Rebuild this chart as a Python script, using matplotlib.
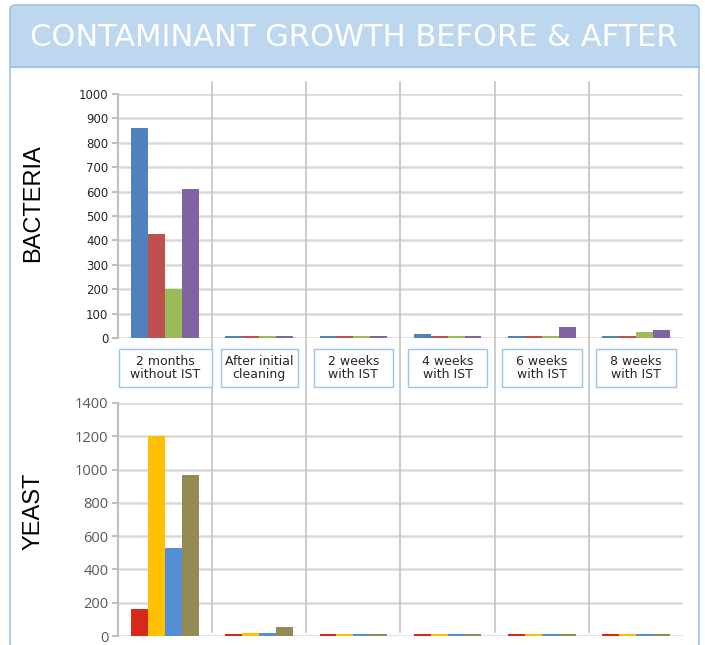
import matplotlib
matplotlib.use('Agg')
import matplotlib.pyplot as plt
import matplotlib.transforms as mtransforms
from matplotlib.patches import FancyBboxPatch, Rectangle
from matplotlib.lines import Line2D
import numpy as np

# Dados
categories = ['2 months\nwithout IST', 'After initial\ncleaning', '2 weeks\nwith IST',
              '4 weeks\nwith IST', '6 weeks\nwith IST', '8 weeks\nwith IST']

bacteria_1 = [860, 7, 7, 16, 7, 7]
bacteria_2 = [425, 7, 7, 7, 7, 7]
bacteria_3 = [200, 7, 7, 7, 7, 25]
bacteria_4 = [610, 7, 7, 7, 44, 34]

yeast_1 = [160, 12, 11, 11, 11, 11]
yeast_2 = [1200, 18, 11, 11, 11, 11]
yeast_3 = [530, 18, 11, 11, 11, 11]
yeast_4 = [970, 57, 11, 11, 11, 11]

bacteria_colors = ['#4f81bd', '#c0504d', '#9bbb59', '#8064a2']
yeast_colors = ['#d7281c', '#ffc000', '#558ed5', '#948a54']

# largura das caixas dos rótulos (px)
box_widths = [93, 77, 79, 79, 80, 80]

W, H = 705, 645
AX_L, AX_R = 118, 683


def fx(px):
    return px / W


def fy(py):
    return 1 - py / H


fig = plt.figure(figsize=(W / 100, H / 100), dpi=100)

# Painel de fundo
border = '#9dc3e6'
band = FancyBboxPatch((fx(10), fy(67)), fx(689), 62 / H,
                      boxstyle='round,pad=0,rounding_size=0.008',
                      transform=fig.transFigure, facecolor='#bdd7ee', edgecolor='none')
fig.add_artist(band)
fig.add_artist(Rectangle((fx(10), fy(67)), fx(689), 20 / H, transform=fig.transFigure,
                         facecolor='#bdd7ee', edgecolor='none'))
outer = FancyBboxPatch((fx(10), fy(648)), fx(689), 643 / H,
                       boxstyle='round,pad=0,rounding_size=0.008',
                       transform=fig.transFigure, facecolor='none', edgecolor=border, lw=1.2)
fig.add_artist(outer)
fig.add_artist(Line2D([fx(10), fx(699)], [fy(67), fy(67)], transform=fig.transFigure,
                      color='#9dc3e6', lw=1.5))

fig.text(fx(354), fy(37), 'CONTAMINANT GROWTH BEFORE & AFTER', color='white',
         fontsize=22, family='DejaVu Sans', ha='center', va='center')

x = np.arange(len(categories))
bw = 0.18
offsets = (np.arange(4) - 1.5) * bw


def make_axes(top, bottom):
    ax = fig.add_axes([fx(AX_L), fy(bottom), fx(AX_R) - fx(AX_L), (bottom - top) / H])
    ax.set_xlim(-0.5, len(categories) - 0.5)
    for s in ['top', 'right', 'bottom']:
        ax.spines[s].set_visible(False)
    ax.spines['left'].set_color('#bfbfbf')
    ax.spines['left'].set_linewidth(1.5)
    ax.set_xticks([])
    ax.tick_params(axis='y', length=4, color='#bfbfbf', width=1.5, pad=3)
    ax.yaxis.grid(True, color='#d9d9d9', lw=1.8)
    ax.set_axisbelow(True)
    ax.patch.set_alpha(0)
    return ax


# Bactérias
ax1 = make_axes(94, 338)
for i, (vals, c) in enumerate(zip([bacteria_1, bacteria_2, bacteria_3, bacteria_4], bacteria_colors)):
    ax1.bar(x + offsets[i], vals, bw, color=c, zorder=3, linewidth=0)
ax1.set_ylim(0, 1000)
ax1.set_yticks(np.arange(0, 1001, 100))
for lbl in ax1.get_yticklabels():
    lbl.set_fontsize(8.5)
    lbl.set_family('DejaVu Sans')
    lbl.set_color('#262626')

# Leveduras
ax2 = make_axes(403, 636)
for i, (vals, c) in enumerate(zip([yeast_1, yeast_2, yeast_3, yeast_4], yeast_colors)):
    ax2.bar(x + offsets[i], vals, bw, color=c, zorder=3, linewidth=0)
ax2.set_ylim(0, 1400)
ax2.set_yticks(np.arange(0, 1401, 200))
for lbl in ax2.get_yticklabels():
    lbl.set_fontsize(10.5)
    lbl.set_family('Open Sans')
    lbl.set_color('#595959')

# Separadores verticais
trans = mtransforms.blended_transform_factory(ax1.transData, fig.transFigure)
for k in range(1, len(categories)):
    fig.add_artist(Line2D([k - 0.5, k - 0.5], [fy(82), fy(632)], transform=trans,
                          color='#c4c4c4', lw=1.2))

# Rótulos das categorias
cat_w = (AX_R - AX_L) / len(categories)
for i, cat in enumerate(categories):
    cx = AX_L + cat_w * (i + 0.5)
    bwid = box_widths[i]
    fig.add_artist(Rectangle((fx(cx - bwid / 2), fy(387)), bwid / W, 38 / H,
                             transform=fig.transFigure, facecolor='white',
                             edgecolor='#9dc3e6', lw=1, zorder=4))
    fig.text(fx(cx), fy(368), cat, ha='center', va='center', fontsize=9,
             family='DejaVu Sans', color='#262626', linespacing=1.05, zorder=5)

fig.text(fx(33), fy(203), 'BACTERIA', rotation=90, fontsize=17, family='Liberation Sans',
         ha='center', va='center', color='black')
fig.text(fx(33), fy(511), 'YEAST', rotation=90, fontsize=17, family='Liberation Sans',
         ha='center', va='center', color='black')

plt.savefig('out.png', dpi=100)
